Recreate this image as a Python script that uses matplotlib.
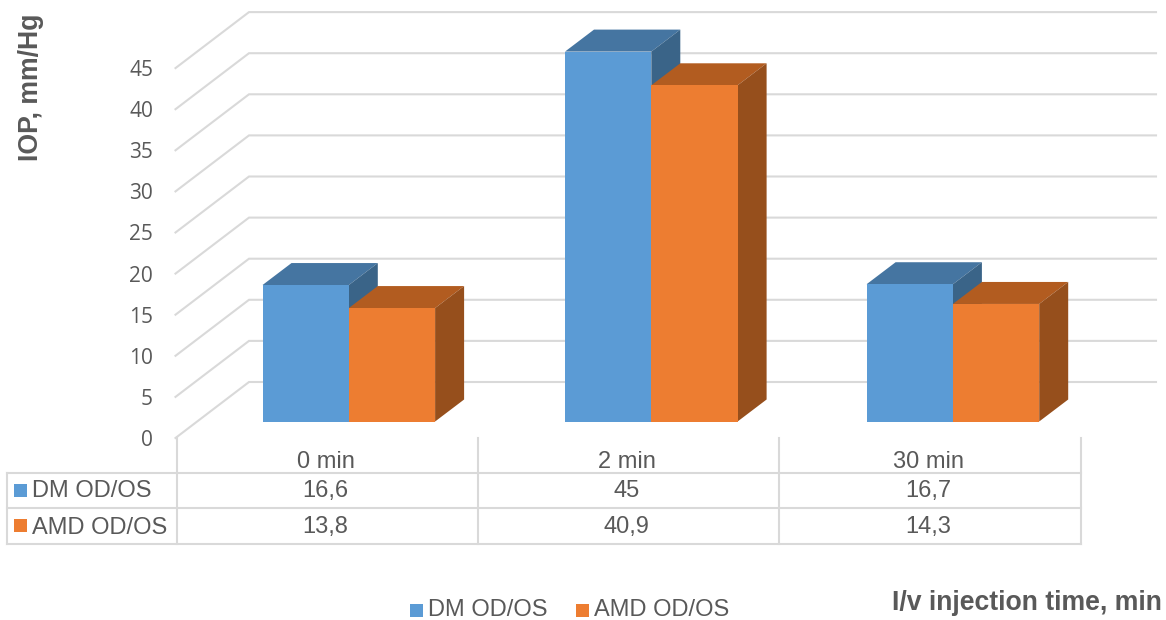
import matplotlib
matplotlib.use("Agg")
import matplotlib.pyplot as plt
from matplotlib.patches import Polygon, Rectangle

# valores de la gráfica
categories = ["0 min", "2 min", "30 min"]
dm_values = [16.6, 45, 16.7]
amd_values = [13.8, 40.9, 14.3]
dm_label_text = ["16,6", "45", "16,7"]
amd_label_text = ["13,8", "40,9", "14,3"]
y_ticks = [0, 5, 10, 15, 20, 25, 30, 35, 40, 45]

# colores: frente, tapa, lateral
BLUE = ("#5B9BD5", "#4575A1", "#3A6488")
ORANGE = ("#ED7D31", "#B25C20", "#964F1C")
GRID = "#D9D9D9"
TEXT = "#595959"

# geometría en píxeles
PX_PER_UNIT = 8.22
WALL_FRONT_X, WALL_BACK_X, WALL_RIGHT_X = 175.5, 249, 1156
WALL_FRONT_Y0, WALL_BACK_Y0 = 438, 382
BAR_Y0 = 421.5
BAR_W = 86.3
BAR_LEFT = [262.5, 565, 866.6]
DEPTH_X, DEPTH_Y = 29, 22
COL_X = [176.5, 477.5, 779, 1081]
ROW_Y = [472.5, 508, 544]
TABLE_LEFT = 6.5

plt.rcParams["font.family"] = "Liberation Sans"

fig = plt.figure(figsize=(11.66, 6.2), dpi=100)
ax = fig.add_axes([0, 0, 1, 1])
ax.set_xlim(0, 1166)
ax.set_ylim(620, 0)
ax.axis("off")


def box(x, value, colors):
    top = BAR_Y0 - value * PX_PER_UNIT
    right = x + BAR_W
    front = Polygon([(x, BAR_Y0), (right, BAR_Y0), (right, top), (x, top)], fc=colors[0], lw=0, zorder=3)
    lid = Polygon([(x, top), (right, top), (right + DEPTH_X, top - DEPTH_Y), (x + DEPTH_X, top - DEPTH_Y)],
                  fc=colors[1], lw=0, zorder=3)
    side = Polygon([(right, BAR_Y0), (right + DEPTH_X, BAR_Y0 - DEPTH_Y),
                    (right + DEPTH_X, top - DEPTH_Y), (right, top)], fc=colors[2], lw=0, zorder=3)
    ax.add_patch(lid)
    ax.add_patch(side)
    ax.add_patch(front)


# líneas de la pared
for tick in y_ticks:
    dy = tick * PX_PER_UNIT
    ax.plot([WALL_FRONT_X, WALL_BACK_X, WALL_RIGHT_X],
            [WALL_FRONT_Y0 - dy, WALL_BACK_Y0 - dy, WALL_BACK_Y0 - dy],
            color=GRID, lw=1.5, zorder=1, solid_joinstyle="miter")
    ax.text(153, WALL_FRONT_Y0 - dy + 2.5, str(tick), ha="right", va="center",
            family="Open Sans", fontsize=15, color=TEXT)

# barras, primero la serie azul para que la naranja quede delante
for x, dm, amd in zip(BAR_LEFT, dm_values, amd_values):
    box(x, dm, BLUE)
    box(x + BAR_W, amd, ORANGE)

# tabla de datos
for x in COL_X:
    ax.plot([x, x], [WALL_FRONT_Y0, ROW_Y[-1]], color=GRID, lw=1.5, zorder=1)
ax.plot([TABLE_LEFT, TABLE_LEFT], [ROW_Y[0], ROW_Y[-1]], color=GRID, lw=1.5, zorder=1)
for y in ROW_Y:
    ax.plot([TABLE_LEFT, COL_X[-1]], [y, y], color=GRID, lw=1.5, zorder=1)

for i, name in enumerate(categories):
    cx = (COL_X[i] + COL_X[i + 1]) / 2 - 1.5
    ax.text(cx, 461.5, name, ha="center", va="center", fontsize=17, color=TEXT)
    ax.text(cx, 491, dm_label_text[i], ha="center", va="center", fontsize=17, color=TEXT)
    ax.text(cx, 527.5, amd_label_text[i], ha="center", va="center", fontsize=17, color=TEXT)

ax.add_patch(Rectangle((14, 483.5), 13, 13, fc=BLUE[0], lw=0))
ax.add_patch(Rectangle((14, 519), 13, 13, fc=ORANGE[0], lw=0))
ax.text(32, 491, "DM OD/OS", ha="left", va="center", fontsize=17, color=TEXT)
ax.text(32, 527.5, "AMD OD/OS", ha="left", va="center", fontsize=17, color=TEXT)

# leyenda inferior
ax.add_patch(Rectangle((410, 604), 13, 13, fc=BLUE[0], lw=0))
ax.add_patch(Rectangle((576, 604), 13, 13, fc=ORANGE[0], lw=0))
ax.text(428, 610.5, "DM OD/OS", ha="left", va="center", fontsize=17, color=TEXT)
ax.text(594, 610.5, "AMD OD/OS", ha="left", va="center", fontsize=17, color=TEXT)

# títulos de los ejes
ax.text(31, 87, "IOP, mm/Hg", rotation=90, ha="center", va="center",
        fontsize=19.2, fontweight="bold", color=TEXT)
ax.text(1162, 602.5, "I/v injection time, min", ha="right", va="center",
        fontsize=19.2, fontweight="bold", color=TEXT)

fig.savefig("out.png", dpi=100)
